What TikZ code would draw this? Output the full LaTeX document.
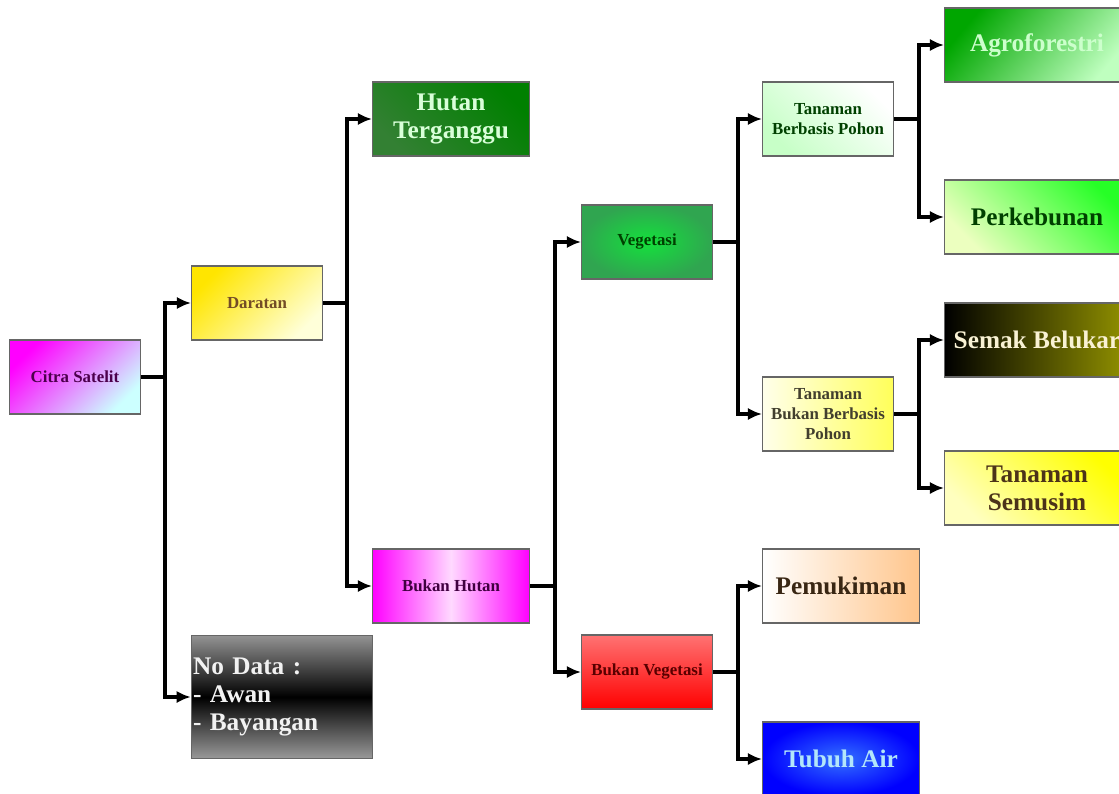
\documentclass[tikz,border=0pt]{standalone}
\usepackage{fontspec}
\setmainfont{Liberation Serif}
\usepackage{tikz}
\usetikzlibrary{arrows.meta}
\definecolor{leafgreen}{RGB}{48,165,80}
\definecolor{brightleaf}{RGB}{20,225,60}
\tikzstyle{smallbox} = [draw=gray!80!black, line width=0.6pt, rectangle, inner sep=0pt,
    minimum width=2.62cm, minimum height=1.48cm, align=center,
    font=\bfseries\fontsize{9.6}{11.2}\selectfont]
\tikzstyle{bigbox} = [smallbox, minimum width=3.14cm,
    font=\bfseries\fontsize{14.4}{16}\selectfont]
\tikzstyle{sidebox} = [bigbox, minimum width=3.7cm]
\tikzstyle{link} = [line width=2.3pt, -{Latex[length=8pt,width=7pt]}]

\begin{document}
\begin{tikzpicture}[x=0.02cm, y=-0.02cm]
                \useasboundingbox (0,0) rectangle (1119,794);
                \clip (0,0) rectangle (1119,794);
                \node [smallbox, left color=magenta, right color=cyan!20, shading angle=45,
                    text=violet!60!black] (citra) at (75,377) {Citra Satelit};
                \node [smallbox, left color=yellow!80!orange, right color=yellow!15, shading angle=45,
                    text=brown!60!black] (daratan) at (257,303) {Daratan};
                \node [bigbox, left color=black!50!green!60!gray, right color=green!50!black, shading angle=135,
                    text=green!15] (hutan) at (451,119) {Hutan\\Terganggu};
                \node [bigbox, left color=magenta, right color=magenta, middle color=white!85!magenta,
                    text=violet!50!black, font=\bfseries\fontsize{9.6}{11.2}\selectfont] (bukanhutan) at (451,586) {Bukan Hutan};
                \node [bigbox, minimum width=3.62cm, minimum height=2.46cm, top color=gray!85,
                    bottom color=gray!80, middle color=black, text=white!90!gray, align=left,
                    text width=3.56cm, inner xsep=1pt] (nodata) at (282,697) {No Data :\\- Awan\\- Bayangan};
                \node [smallbox, inner color=brightleaf, outer color=leafgreen,
                    text=green!25!black] (vegetasi) at (647,242) {Vegetasi};
                \node [smallbox, top color=red!55, bottom color=red, text=red!35!black] (bukanveg) at (647,672) {Bukan Vegetasi};
                \node [smallbox, left color=green!22, right color=white, shading angle=135,
                    text=green!25!black] (pohon) at (828,119) {Tanaman\\Berbasis Pohon};
                \node [smallbox, left color=yellow!8, right color=yellow!65, text=olive!30!black] (bukanpohon) at (828,414) {Tanaman\\Bukan Berbasis\\Pohon};
                \node [sidebox, left color=green!65!black, right color=green!25, shading angle=50,
                    text=green!20] (agro) at (1037,45) {Agroforestri};
                \node [sidebox, left color=green!30!yellow!25, right color=green!85, shading angle=135,
                    text=green!25!black] (kebun) at (1037,217) {Perkebunan};
                \node [sidebox, left color=black, right color=olive!85!yellow, text=yellow!10!white!90!brown] (semak) at (1037,340) {Semak Belukar};
                \node [sidebox, left color=yellow!25, right color=yellow, shading angle=135,
                    text=brown!40!black] (semusim) at (1037,488) {Tanaman\\Semusim};
                \node [bigbox, left color=white, right color=orange!45, text=brown!30!black] (mukim) at (841,586) {Pemukiman};
                \node [bigbox, inner color=blue!70!cyan!80, outer color=blue, text=cyan!30] (air) at (841,759) {Tubuh Air};
                \coordinate (j1) at (165,377);
                \coordinate (j2) at (347,303);
                \coordinate (j3) at (555,586);
                \coordinate (j4) at (738,242);
                \coordinate (j5) at (738,672);
                \coordinate (j6) at (919,119);
                \coordinate (j7) at (919,414);
                \draw [link] (citra.east) -- (j1) |- (daratan.west);
                \draw [link] (j1) |- (nodata.west);
                \draw [link] (daratan.east) -- (j2) |- (hutan.west);
                \draw [link] (j2) |- (bukanhutan.west);
                \draw [link] (bukanhutan.east) -- (j3) |- (vegetasi.west);
                \draw [link] (j3) |- (bukanveg.west);
                \draw [link] (vegetasi.east) -- (j4) |- (pohon.west);
                \draw [link] (j4) |- (bukanpohon.west);
                \draw [link] (bukanveg.east) -- (j5) |- (mukim.west);
                \draw [link] (j5) |- (air.west);
                \draw [link] (pohon.east) -- (j6) |- (agro.west);
                \draw [link] (j6) |- (kebun.west);
                \draw [link] (bukanpohon.east) -- (j7) |- (semak.west);
                \draw [link] (j7) |- (semusim.west);
            \end{tikzpicture}
\end{document}
